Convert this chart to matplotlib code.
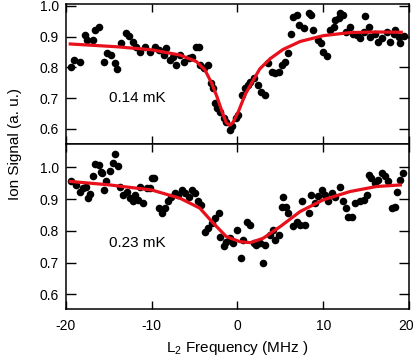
import numpy as np
import matplotlib
matplotlib.use("Agg")
import matplotlib.pyplot as plt
import matplotlib.transforms as mtransforms

plt.rcParams['font.family'] = ['Liberation Sans', 'DejaVu Sans']
plt.rcParams['axes.unicode_minus'] = False

# 0.14 mK scan (top)
x_top = [-19.4, -19.1, -18.4, -17.8, -17.5, -16.8, -16.6, -16.2, -15.6, -15.2,
         -14.7, -14.3, -14.0, -13.6, -13.0, -12.6, -12.2, -11.8, -11.4, -10.8,
         -10.2, -9.6, -9.1, -8.6, -8.3, -7.9, -7.5, -7.2, -6.7, -6.2,
         -5.7, -5.3, -4.8, -4.5, -4.4, -3.9, -3.4, -3.1, -2.8, -2.6,
         -2.4, -2.0, -1.6, -1.3, -0.9, -0.6, -0.2, 0.1, 0.5, 0.9,
         1.2, 1.5, 1.9, 2.4, 2.8, 3.2, 3.6, 4.0, 4.4, 4.8,
         5.2, 5.5, 5.9, 6.2, 6.5, 6.9, 7.2, 7.7, 8.3, 8.6,
         8.8, 9.4, 9.7, 10.0, 10.4, 10.8, 11.2, 11.4, 11.8, 12.0,
         12.3, 12.7, 13.1, 13.5, 13.9, 14.3, 14.7, 14.9, 15.3, 15.5,
         16.0, 16.4, 16.8, 17.4, 17.8, 18.2, 18.4, 18.8, 19.0, 19.4]
y_top = [0.801, 0.824, 0.818, 0.905, 0.889, 0.889, 0.921, 0.932, 0.819, 0.846,
         0.840, 0.813, 0.794, 0.878, 0.913, 0.902, 0.884, 0.867, 0.851, 0.867,
         0.851, 0.867, 0.857, 0.840, 0.862, 0.824, 0.835, 0.808, 0.840, 0.819,
         0.829, 0.835, 0.865, 0.865, 0.808, 0.797, 0.808, 0.750, 0.732, 0.683,
         0.667, 0.656, 0.635, 0.624, 0.597, 0.608, 0.635, 0.645, 0.710, 0.732,
         0.743, 0.754, 0.764, 0.743, 0.721, 0.710, 0.813, 0.786, 0.781, 0.786,
         0.808, 0.819, 0.846, 0.910, 0.965, 0.970, 0.938, 0.927, 0.976, 0.970,
         0.921, 0.889, 0.878, 0.851, 0.837, 0.921, 0.932, 0.954, 0.959, 0.976,
         0.970, 0.916, 0.932, 0.910, 0.905, 0.894, 0.916, 0.967, 0.932, 0.900,
         0.910, 0.884, 0.894, 0.916, 0.884, 0.910, 0.921, 0.900, 0.878, 0.902]

# fit curve (top)
fx_top = [-19.5, -14.1, -10.0, -6.7, -4.8, -3.8, -3.0, -2.4, -1.8, -1.3,
          -0.9, -0.5, 0.1, 0.9, 1.7, 2.6, 3.8, 5.3, 7.3, 10.0, 13.1, 16.2, 19.1]
fy_top = [0.876, 0.867, 0.857, 0.840, 0.819, 0.792, 0.748, 0.705, 0.656, 0.620,
          0.612, 0.622, 0.656, 0.712, 0.752, 0.795, 0.828, 0.858, 0.884, 0.903,
          0.913, 0.915, 0.914]

# 0.23 mK scan (bottom)
x_bot = [-19.4, -18.8, -18.4, -18.0, -17.7, -17.4, -17.2, -16.8, -16.6, -16.2,
         -15.9, -15.8, -15.6, -15.3, -14.9, -14.5, -14.3, -13.9, -13.7, -13.3,
         -12.9, -12.5, -12.2, -12.0, -11.6, -11.4, -11.0, -10.6, -10.2, -10.0,
         -9.7, -9.2, -8.8, -8.5, -8.1, -7.7, -7.3, -6.9, -6.5, -6.1,
         -5.7, -5.3, -5.0, -4.6, -4.2, -3.8, -3.4, -3.0, -2.6, -2.2,
         -2.0, -1.6, -1.3, -0.9, -0.5, 0.0, 0.4, 0.7, 1.1, 1.5,
         1.9, 2.2, 2.6, 3.0, 3.2, 3.8, 4.2, 4.4, 4.8, 5.2,
         5.3, 5.7, 5.9, 6.5, 6.9, 7.3, 7.5, 7.9, 8.3, 8.6,
         9.0, 9.4, 9.8, 10.2, 10.6, 11.0, 11.4, 12.0, 12.3, 12.7,
         12.9, 13.3, 13.7, 14.3, 14.7, 15.1, 15.3, 15.6, 16.0, 16.4,
         16.8, 17.2, 17.6, 18.0, 18.4, 18.6, 19.0, 19.3]
y_bot = [0.956, 0.945, 0.924, 0.935, 0.940, 0.903, 0.917, 0.972, 1.011, 1.008,
         0.987, 0.982, 0.929, 0.956, 0.990, 1.013, 1.043, 1.006, 0.940, 0.914,
         0.924, 0.903, 0.893, 0.914, 0.898, 0.940, 0.887, 0.935, 0.935, 0.968,
         0.966, 0.872, 0.856, 0.872, 0.893, 0.908, 0.919, 0.914, 0.929, 0.919,
         0.908, 0.929, 0.919, 0.893, 0.882, 0.798, 0.808, 0.824, 0.840, 0.856,
         0.782, 0.751, 0.766, 0.777, 0.761, 0.803, 0.714, 0.772, 0.829, 0.819,
         0.761, 0.756, 0.761, 0.698, 0.756, 0.787, 0.803, 0.772, 0.787, 0.877,
         0.908, 0.877, 0.856, 0.814, 0.829, 0.819, 0.893, 0.819, 0.856, 0.914,
         0.887, 0.911, 0.929, 0.914, 0.893, 0.919, 0.908, 0.940, 0.893, 0.872,
         0.845, 0.845, 0.887, 0.893, 0.898, 0.914, 0.977, 0.966, 0.951, 0.961,
         0.982, 0.972, 0.956, 0.872, 0.877, 0.924, 0.961, 0.982]

fx_bot = [-19.5, -14.9, -10.0, -6.7, -4.4, -2.8, -1.3, 0.3, 1.5, 3.0,
          5.0, 7.3, 10.0, 13.1, 16.2, 19.0]
fy_bot = [0.956, 0.945, 0.929, 0.903, 0.872, 0.824, 0.782, 0.766, 0.763, 0.777,
          0.814, 0.861, 0.898, 0.924, 0.940, 0.945]

labels = ['0.14 mK', '0.23 mK']
yticks = [0.6, 0.7, 0.8, 0.9, 1.0]
xticks = [-20, -10, 0, 10, 20]

fig = plt.figure(figsize=(4.15, 3.56), dpi=100)
ax1 = fig.add_axes([0.159, 0.5955, 0.8265, 0.3925])
ax2 = fig.add_axes([0.159, 0.1312, 0.8265, 0.4643])

def style(ax, ylim, bottom_labels):
    ax.set_xlim(-20, 20)
    ax.set_ylim(*ylim)
    ax.set_xticks(xticks)
    ax.set_yticks(yticks)
    ax.tick_params(axis='both', direction='in', top=True, right=True,
                   labelsize=10, width=1, color='black')
    ax.tick_params(axis='y', length=7, pad=5)
    ax.tick_params(axis='x', length=6, pad=7)
    if not bottom_labels:
        ax.tick_params(axis='x', labelbottom=False)
    for s in ax.spines.values():
        s.set_linewidth(1.1)

ax1.scatter(x_top, y_top, s=30, color='black', zorder=2, linewidths=0)
ax1.plot(fx_top, fy_top, color='#e8101a', lw=2.3, zorder=3)
ax1.text(-15.0, 0.70, labels[0], fontsize=11, va='center')
style(ax1, (0.551, 1.005), False)

ax2.scatter(x_bot, y_bot, s=30, color='black', zorder=2, linewidths=0)
ax2.plot(fx_bot, fy_bot, color='#e8101a', lw=2.3, zorder=3)
ax2.text(-15.0, 0.763, labels[1], fontsize=11, va='center')
style(ax2, (0.553, 1.074), True)

# nudge the last x label a little left so it stays inside the figure
last = ax2.get_xticklabels()[-1]
last.set_transform(last.get_transform() +
                   mtransforms.ScaledTranslation(-3 / 100, 0, fig.dpi_scale_trans))

ax2.set_xlabel(r'L$_{\mathregular{2}}$ Frequency (MHz )', fontsize=11, labelpad=4)
fig.text(0.036, 1 - 144 / 356, 'Ion Signal (a. u.)', rotation=90,
         va='center', ha='center', fontsize=11)

fig.savefig('out.png', dpi=100)
